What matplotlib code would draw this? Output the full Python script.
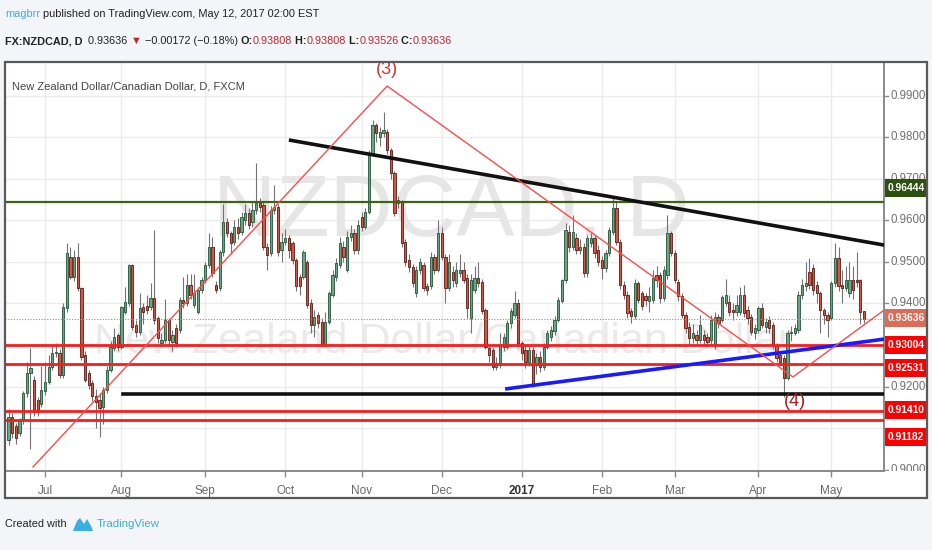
import matplotlib
matplotlib.use("Agg")
import matplotlib.pyplot as plt
from matplotlib.patches import Rectangle, Polygon
import numpy as np
import pandas as pd

FONT = ["Liberation Sans", "DejaVu Sans"]
plt.rcParams["font.family"] = FONT

# NZDCAD daily candles, 17 Jun 2016 .. 12 May 2017
opens = [
    .9071, .9127, .9105, .9087, .9119, .9184, .9232, .9216, .9167, .9159,
    .9188, .9212, .9248, .9280, .9280, .9228, .9388, .9513, .9465, .9513,
    .9437, .9276, .9232, .9208, .9176, .9167, .9151, .9192, .9240, .9292,
    .9324, .9296, .9380, .9400, .9493, .9348, .9332, .9392, .9394, .9392,
    .9413, .9364, .9304, .9312, .9360, .9308, .9340, .9336, .9408, .9400,
    .9445, .9396, .9380, .9433, .9457, .9493, .9537, .9445, .9437, .9525,
    .9597, .9569, .9549, .9585, .9573, .9601, .9617, .9597, .9625, .9641,
    .9637, .9537, .9521, .9625, .9633, .9529, .9549, .9557, .9545, .9505,
    .9465, .9465, .9501, .9400, .9348, .9372, .9356, .9300, .9356, .9421,
    .9465, .9493, .9537, .9481, .9561, .9569, .9529, .9609, .9585, .9621,
    .9762, .9830, .9800, .9810, .9814, .9770, .9714, .9641, .9645, .9549,
    .9505, .9489, .9425, .9481, .9493, .9441, .9441, .9513, .9481, .9569,
    .9513, .9437, .9477, .9449, .9473, .9481, .9461, .9365, .9433, .9461,
    .9453, .9385, .9292, .9288, .9248, .9252, .9296, .9296, .9352, .9373,
    .9401, .9304, .9288, .9260, .9288, .9252, .9272, .9248, .9296, .9320,
    .9333, .9361, .9405, .9457, .9573, .9537, .9557, .9529, .9537, .9473,
    .9545, .9557, .9529, .9505, .9485, .9521, .9573, .9629, .9549, .9445,
    .9421, .9381, .9369, .9449, .9425, .9417, .9405, .9409, .9469, .9469,
    .9413, .9469, .9569, .9521, .9453, .9417, .9372, .9344, .9316, .9324,
    .9312, .9324, .9320, .9312, .9300, .9368, .9360, .9400, .9404, .9384,
    .9380, .9380, .9420, .9384, .9368, .9328, .9336, .9388, .9344, .9360,
    .9348, .9300, .9276, .9268, .9220, .9328, .9330, .9336, .9420, .9441,
    .9477, .9485, .9445, .9425, .9384, .9372, .9364, .9449, .9509, .9445,
    .9437, .9425, .9457, .9457, .9457, .93808,
]
highs = [
    .9145, .9135, .9112, .9125, .9190, .9260, .9292, .9225, .9175, .9250,
    .9260, .9275, .9300, .9305, .9290, .9400, .9545, .9535, .9530, .9545,
    .9440, .9285, .9240, .9215, .9195, .9185, .9200, .9250, .9310, .9340,
    .9330, .9395, .9440, .9495, .9495, .9360, .9425, .9400, .9420, .9449,
    .9577, .9370, .9330, .9410, .9365, .9335, .9350, .9415, .9465, .9470,
    .9470, .9470, .9440, .9465, .9500, .9570, .9560, .9455, .9530, .9640,
    .9605, .9575, .9600, .9605, .9620, .9640, .9630, .9645, .9738, .9655,
    .9645, .9545, .9635, .9685, .9640, .9570, .9580, .9565, .9550, .9510,
    .9470, .9530, .9505, .9410, .9385, .9380, .9365, .9380, .9430, .9480,
    .9510, .9560, .9550, .9575, .9590, .9580, .9600, .9620, .9630, .9770,
    .9842, .9835, .9825, .9862, .9820, .9775, .9720, .9660, .9650, .9555,
    .9520, .9495, .9490, .9510, .9500, .9450, .9525, .9520, .9600, .9585,
    .9520, .9520, .9490, .9500, .9520, .9500, .9470, .9470, .9490, .9500,
    .9460, .9390, .9300, .9295, .9270, .9330, .9330, .9360, .9390, .9430,
    .9410, .9310, .9300, .9300, .9295, .9280, .9285, .9305, .9335, .9345,
    .9370, .9415, .9460, .9595, .9590, .9613, .9570, .9555, .9545, .9565,
    .9570, .9565, .9540, .9515, .9530, .9585, .9653, .9645, .9555, .9455,
    .9430, .9390, .9460, .9455, .9430, .9425, .9440, .9480, .9490, .9475,
    .9490, .9613, .9575, .9530, .9460, .9425, .9380, .9355, .9350, .9335,
    .9372, .9335, .9330, .9372, .9380, .9375, .9420, .9460, .9420, .9400,
    .9420, .9440, .9445, .9395, .9375, .9350, .9395, .9400, .9365, .9370,
    .9355, .9305, .9285, .9275, .9335, .9345, .9350, .9430, .9460, .9501,
    .9510, .9495, .9455, .9430, .9390, .9380, .9455, .9545, .9537, .9480,
    .9490, .9500, .9490, .9525, .9460, .93808,
]
lows = [
    .9060, .9075, .9062, .9080, .9110, .9175, .9050, .9130, .9130, .9150,
    .9180, .9205, .9240, .9270, .9220, .9220, .9380, .9460, .9455, .9430,
    .9265, .9210, .9195, .9165, .9100, .9078, .9110, .9185, .9235, .9285,
    .9285, .9290, .9375, .9395, .9335, .9320, .9325, .9350, .9375, .9385,
    .9350, .9305, .9295, .9305, .9300, .9285, .9295, .9330, .9390, .9395,
    .9410, .9390, .9375, .9425, .9450, .9485, .9465, .9425, .9430, .9515,
    .9560, .9520, .9540, .9555, .9565, .9590, .9580, .9585, .9615, .9620,
    .9530, .9480, .9515, .9615, .9515, .9500, .9540, .9510, .9495, .9430,
    .9420, .9460, .9390, .9330, .9320, .9340, .9296, .9296, .9350, .9415,
    .9455, .9485, .9500, .9475, .9550, .9520, .9520, .9575, .9580, .9615,
    .9755, .9790, .9780, .9800, .9760, .9700, .9610, .9630, .9535, .9490,
    .9475, .9440, .9415, .9470, .9430, .9420, .9435, .9470, .9475, .9505,
    .9400, .9430, .9440, .9440, .9465, .9450, .9365, .9330, .9425, .9440,
    .9375, .9290, .9260, .9240, .9240, .9245, .9285, .9290, .9340, .9365,
    .9295, .9265, .9245, .9250, .9200, .9230, .9235, .9240, .9290, .9310,
    .9325, .9355, .9400, .9450, .9525, .9530, .9520, .9520, .9465, .9465,
    .9535, .9510, .9490, .9460, .9475, .9515, .9565, .9540, .9435, .9410,
    .9365, .9352, .9362, .9400, .9385, .9395, .9380, .9400, .9440, .9400,
    .9405, .9460, .9515, .9450, .9405, .9365, .9330, .9300, .9305, .9300,
    .9305, .9300, .9296, .9300, .9290, .9340, .9355, .9395, .9370, .9360,
    .9370, .9372, .9368, .9350, .9325, .9315, .9330, .9340, .9330, .9330,
    .9290, .9260, .9250, .9175, .9215, .9310, .9325, .9330, .9410, .9430,
    .9436, .9420, .9400, .9330, .9350, .9320, .9360, .9440, .9430, .9400,
    .9430, .9415, .9410, .9440, .9350, .93526,
]
closes = [
    .9127, .9087, .9075, .9119, .9184, .9232, .9244, .9139, .9139, .9192,
    .9212, .9248, .9280, .9284, .9228, .9392, .9521, .9465, .9513, .9437,
    .9272, .9216, .9204, .9176, .9163, .9147, .9192, .9240, .9296, .9320,
    .9296, .9392, .9404, .9493, .9344, .9332, .9388, .9380, .9384, .9413,
    .9360, .9316, .9312, .9360, .9312, .9324, .9304, .9408, .9400, .9445,
    .9421, .9425, .9433, .9457, .9493, .9537, .9473, .9433, .9525, .9597,
    .9569, .9545, .9585, .9569, .9609, .9617, .9589, .9625, .9641, .9633,
    .9537, .9517, .9625, .9633, .9525, .9549, .9557, .9529, .9505, .9441,
    .9441, .9525, .9397, .9348, .9368, .9352, .9300, .9356, .9425, .9469,
    .9497, .9545, .9513, .9561, .9569, .9529, .9589, .9585, .9621, .9762,
    .9830, .9810, .9814, .9818, .9770, .9714, .9617, .9649, .9545, .9501,
    .9489, .9449, .9481, .9501, .9437, .9433, .9513, .9481, .9569, .9513,
    .9437, .9501, .9457, .9481, .9481, .9457, .9389, .9457, .9461, .9449,
    .9381, .9296, .9276, .9248, .9256, .9300, .9320, .9352, .9381, .9401,
    .9304, .9280, .9260, .9288, .9204, .9272, .9248, .9296, .9328, .9336,
    .9361, .9409, .9457, .9577, .9537, .9573, .9529, .9537, .9473, .9557,
    .9557, .9521, .9501, .9485, .9521, .9577, .9629, .9549, .9445, .9421,
    .9377, .9369, .9449, .9409, .9393, .9409, .9417, .9461, .9457, .9413,
    .9481, .9569, .9521, .9457, .9417, .9372, .9340, .9316, .9328, .9312,
    .9348, .9312, .9308, .9360, .9368, .9352, .9416, .9420, .9380, .9380,
    .9396, .9420, .9376, .9364, .9332, .9340, .9388, .9348, .9356, .9340,
    .9300, .9268, .9260, .9220, .9328, .9332, .9340, .9420, .9445, .9449,
    .9445, .9433, .9425, .9384, .9372, .9360, .9449, .9509, .9441, .9437,
    .9457, .9457, .9433, .9453, .9380, .93636,
]

month_starts = ["2016-07-01", "2016-08-01", "2016-09-01", "2016-10-03", "2016-11-01",
                "2016-12-01", "2017-01-02", "2017-02-01", "2017-03-01", "2017-04-03",
                "2017-05-01"]
month_labels = ["Jul", "Aug", "Sep", "Oct", "Nov", "Dec", "2017", "Feb", "Mar", "Apr", "May"]
price_ticks = [0.90, 0.91, 0.92, 0.93, 0.94, 0.95, 0.96, 0.97, 0.98, 0.99]
# 0.91 and 0.93 sit under the coloured labels in the original
hidden_ticks = [0.91, 0.93]

# drawings on the chart (bar position, price)
wave_x = [6.7, 104.0, 215.5, 243.0]
wave_y = [0.9006, 0.9924, 0.9223, 0.9400]
resist_x = [77.0, 243.0]
resist_y = [0.9794, 0.9537]
support_x = [136.4, 243.0]
support_y = [0.9194, 0.9317]
floor_start = 31.4
floor_level = 0.9182
green_level = 0.96444
red_levels = [0.93004, 0.92531, 0.91410, 0.91182]
last_price = 0.93636

# price scale labels
label_values = ["0.96444", "0.93636", "0.93004", "0.92531", "0.91410", "0.91182"]
label_colors = ["#2c5010", "#dd6b55", "#ff0000", "#ff0000", "#ff0000", "#ff0000"]
label_pos = [0.9678, 0.9365, 0.9300, 0.9245, 0.9143, 0.9079]

W, H = 932, 550
o = np.array(opens); h = np.array(highs); l = np.array(lows); c = np.array(closes)
bars = np.arange(len(c))
dates = pd.bdate_range("2016-06-17", periods=len(c))
month_pos = dates.searchsorted(pd.to_datetime(month_starts))

fig = plt.figure(figsize=(W / 100, H / 100), dpi=100, facecolor="#f3f5f8")

def fx(px):
    return px / W

def fy(py):
    return 1 - py / H

# white chart box + frame
fig.patches.append(Rectangle((fx(5), fy(498)), fx(922), 436 / H, transform=fig.transFigure,
                             facecolor="white", edgecolor="none", zorder=-5))
fig.patches.append(Rectangle((fx(5), fy(498)), fx(922), 436 / H, transform=fig.transFigure,
                             facecolor="none", edgecolor="#5a5a5a", lw=1.6, zorder=20))

ax = fig.add_axes([fx(5), fy(471), fx(879), 409 / H])
ax.set_facecolor("none")
ymin, ymax = 0.89964, 0.99819
xmin, xmax = -0.99, 240.5
ax.set_ylim(ymin, ymax)
ax.set_xlim(xmin, xmax)

for p in price_ticks:
    ax.axhline(p, color="#ebebeb", lw=1, zorder=0)
for m in month_pos:
    ax.axvline(m, color="#ebebeb", lw=1, zorder=0)

# watermark
ax.text(0.508, 0.63, "NZDCAD, D", transform=ax.transAxes, fontsize=63, color="#e6e6e6",
        ha="center", va="center", zorder=0.5)
ax.text(0.498, 0.315, "New Zealand Dollar/Canadian Dollar", transform=ax.transAxes, fontsize=31,
        color="#eaeaea", ha="center", va="center", zorder=0.5)

# candles
up = c >= o
ax.vlines(bars, np.minimum(l, np.minimum(o, c)), np.maximum(h, np.maximum(o, c)),
          color="#737375", lw=0.8, zorder=2)
ax.bar(bars[up], (c - o)[up], bottom=o[up], width=0.62, color="#6ba583",
       edgecolor="#225437", lw=0.6, zorder=3)
ax.bar(bars[~up], (o - c)[~up], bottom=c[~up], width=0.62, color="#d75442",
       edgecolor="#5b1a13", lw=0.6, zorder=3)

# drawings
ax.axhline(last_price, color="#e07060", lw=0.8, ls=(0, (1, 1.5)), zorder=4)
ax.axhline(green_level, color="#3c6414", lw=1.6, zorder=5)
for lv in red_levels:
    ax.axhline(lv, color="#ff1a1a", lw=2.0, zorder=5)
ax.plot([floor_start, xmax + 3], [floor_level, floor_level], color="#111111", lw=2.6, zorder=5)
ax.plot(resist_x, resist_y, color="#111111", lw=2.6, zorder=5, solid_capstyle="butt")
ax.plot(support_x, support_y, color="#1a1aff", lw=2.6, zorder=5, solid_capstyle="butt")
ax.plot(wave_x, wave_y, color="#ff4a4a", lw=1.0, zorder=6)
ax.text(wave_x[1], 0.9965, "(3)", color="#d83030", fontsize=13, ha="center", va="center",
        zorder=7, clip_on=True)
ax.text(wave_x[2] + 0.5, 0.9165, "(4)", color="#a81c1c", fontsize=13, ha="center", va="center",
        zorder=7)

ax.text(fx(7) / fx(879), 0.94, "New Zealand Dollar/Canadian Dollar, D, FXCM", transform=ax.transAxes,
        fontsize=8, color="#444444", ha="left", va="center", zorder=8)

ax.set_xticks(month_pos)
ax.set_xticklabels(month_labels)
ax.tick_params(axis="x", direction="out", length=4, width=1, color="#8a8a8a", pad=6,
               labelsize=8.5, labelcolor="#6a6a6a")
ax.get_xticklabels()[6].set_fontweight("bold")
ax.get_xticklabels()[6].set_color("#333333")
ax.set_yticks([])
for side in ["top", "left"]:
    ax.spines[side].set_visible(False)
for side in ["right", "bottom"]:
    ax.spines[side].set_color("#8a8a8a")
    ax.spines[side].set_linewidth(1.4)

# price scale
pax = fig.add_axes([fx(884), fy(471), fx(43), 409 / H])
pax.set_ylim(ymin, ymax)
pax.set_xlim(0, 1)
pax.axis("off")
for p in price_ticks:
    pax.plot([0, 0.09], [p, p], color="#8a8a8a", lw=1, clip_on=True)
    if p in hidden_ticks:
        continue
    pax.text(0.14, p, f"{p:.5f}", fontsize=8.3, color="#707070", ha="left", va="center",
             clip_on=True)
bh = 0.0043
for val, col, pos in zip(label_values, label_colors, label_pos):
    pax.add_patch(Rectangle((0.02, pos - bh / 2), 0.98, bh, facecolor=col, edgecolor="none",
                            zorder=5, clip_on=True))
    pax.text(0.08, pos, val, fontsize=7.4, color="white", fontweight="bold", ha="left",
             va="center", zorder=6, clip_on=True)

# header lines
renderer = fig.canvas.get_renderer()

def draw_runs(x, y, runs, size):
    for s, color, weight in runs:
        t = fig.text(fx(x), fy(y), s, color=color, fontsize=size, fontweight=weight,
                     ha="left", va="center", family=FONT)
        x += t.get_window_extent(renderer=renderer).width

draw_runs(5, 14, [("magbrr", "#3aaee0", "normal"),
                  (" published on TradingView.com, May 12, 2017 02:00 EST", "#222222", "normal")], 7.9)
RED = "#c0282d"
DARK = "#222222"
draw_runs(5, 41, [("FX:NZDCAD, D", DARK, "bold"), ("  0.93636 ", DARK, "normal"),
                  ("\u25bc", RED, "normal"), (" \u22120.00172 (\u22120.18%) ", DARK, "normal"),
                  ("O:", DARK, "bold"), ("0.93808", RED, "normal"),
                  (" H:", DARK, "bold"), ("0.93808", RED, "normal"),
                  (" L:", DARK, "bold"), ("0.93526", RED, "normal"),
                  (" C:", DARK, "bold"), ("0.93636", RED, "normal")], 7.8)

# footer
fig.text(fx(5), fy(524), "Created with", fontsize=7.8, color="#222222", ha="left", va="center")
logo = [(73, 531), (77, 521), (80, 518), (84, 524), (87, 519), (91, 526), (93, 531)]
fig.patches.append(Polygon([(fx(px), fy(py)) for px, py in logo], closed=True,
                           transform=fig.transFigure, facecolor="#3aaee0", edgecolor="none"))
fig.text(fx(97), fy(524), "TradingView", fontsize=8.2, color="#3aaee0", ha="left", va="center")

fig.savefig("out.png", dpi=100, facecolor=fig.get_facecolor())
